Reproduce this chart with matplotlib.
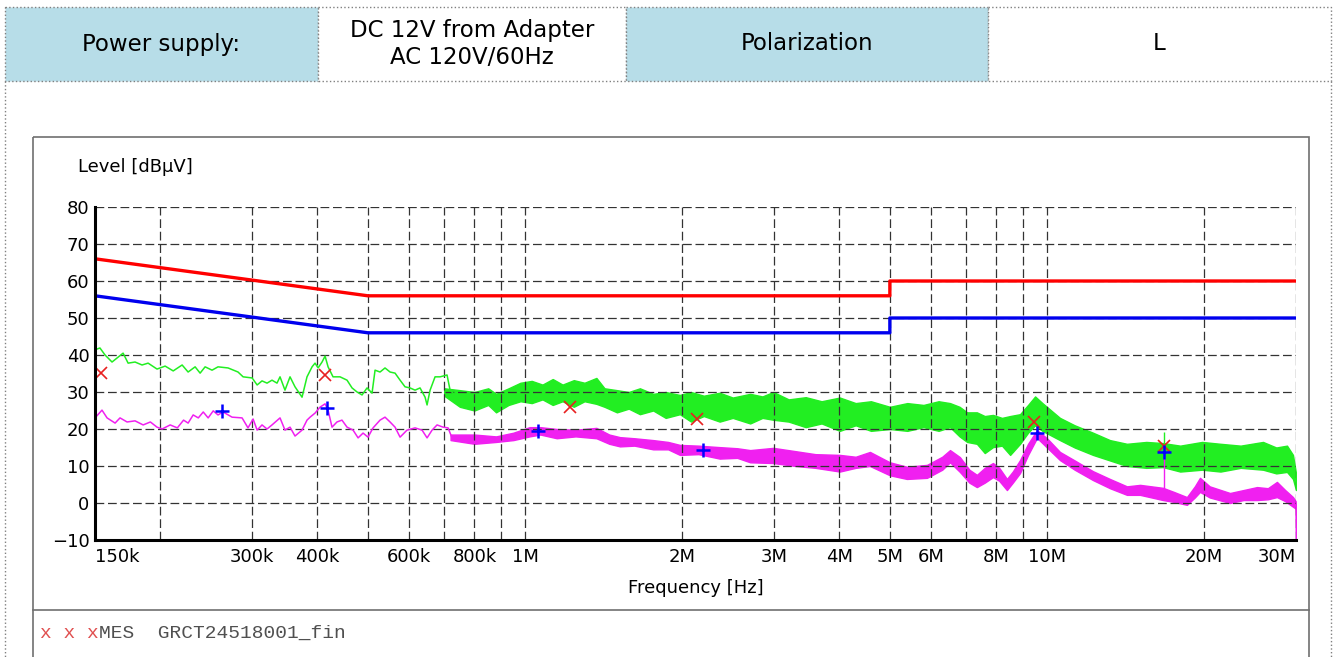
import matplotlib
matplotlib.use("Agg")
import matplotlib.pyplot as plt
from matplotlib.patches import Rectangle
from matplotlib.ticker import FixedLocator, NullFormatter

# header table
header_text = ["Power supply:", "DC 12V from Adapter\nAC 120V/60Hz", "Polarization", "L"]
header_fill = ["#b7dde8", "white", "#b7dde8", "white"]

# x ticks (MHz)
tick_f = [0.15, 0.3, 0.4, 0.6, 0.8, 1, 2, 3, 4, 5, 6, 8, 10, 20, 30]
tick_lbl = ["150k", "300k", "400k", "600k", "800k", "1M", "2M", "3M", "4M",
            "5M", "6M", "8M", "10M", "20M", "30M"]
grid_f = [0.2, 0.5, 0.7, 0.9, 7, 9]
y_ticks = [-10, 0, 10, 20, 30, 40, 50, 60, 70, 80]

# limit lines (MHz, dBuV)
limit_f = [0.15, 0.5, 5.0, 5.0, 30.0]
limit_qp = [66, 56, 56, 60, 60]
limit_av = [56, 46, 46, 50, 50]

# final measurements
qp_f = [0.154, 0.414, 1.22, 2.14, 9.44, 16.75]
qp_level = [35.1, 34.6, 25.9, 22.7, 21.9, 15.4]
av_f = [0.263, 0.418, 1.059, 2.19, 9.57, 16.75]
av_level = [24.9, 25.7, 19.5, 14.3, 18.9, 13.8]

# peak scan, low frequency part (MHz, dBuV)
pk_f = [0.150, 0.1533, 0.1568, 0.1617, 0.1698, 0.1736, 0.179, 0.1846, 0.1896,
        0.1972, 0.2044, 0.2118, 0.2203, 0.2262, 0.2333, 0.2385, 0.2438, 0.2514,
        0.2581, 0.2698, 0.2819, 0.2883, 0.300, 0.3067, 0.3134, 0.3204, 0.3275,
        0.3348, 0.3393, 0.3468, 0.3546, 0.3625, 0.3739, 0.3822, 0.3908, 0.396,
        0.4013, 0.4084, 0.4139, 0.4194, 0.4287, 0.4421, 0.456, 0.4662, 0.4766,
        0.4872, 0.4981, 0.5092, 0.516, 0.5275, 0.5392, 0.5513, 0.5636, 0.5762,
        0.589, 0.6021, 0.6156, 0.6293, 0.6434, 0.6491, 0.6578, 0.6724, 0.6875,
        0.7089, 0.7184, 0.741]
pk_level = [41.4, 41.9, 40.0, 38.1, 40.5, 37.8, 38.1, 37.3, 37.8,
            36.2, 37.0, 35.7, 37.3, 35.4, 36.8, 35.1, 36.8, 35.9,
            36.8, 36.5, 35.4, 34.1, 33.8, 31.9, 33.0, 32.4, 33.2,
            32.4, 34.1, 30.5, 34.1, 31.4, 28.6, 34.1, 36.8, 37.8,
            36.5, 38.1, 39.7, 36.8, 34.1, 34.1, 33.2, 31.1, 30.0,
            29.2, 31.1, 29.7, 35.9, 35.4, 36.5, 35.4, 35.1, 33.2,
            31.4, 31.1, 30.5, 31.1, 28.6, 26.5, 30.5, 34.1, 34.1,
            34.6, 30.5, 28.6]

# peak scan, noise band (MHz, low, high)
pk_band_f = [0.70, 0.75, 0.80, 0.85, 0.88, 0.93, 0.98, 1.03, 1.08, 1.13, 1.18,
             1.24, 1.30, 1.37, 1.42, 1.50, 1.58, 1.66, 1.76, 1.86, 1.98, 2.08,
             2.20, 2.36, 2.50, 2.70, 2.85, 2.99, 3.20, 3.45, 3.70, 4.01, 4.30,
             4.60, 5.00, 5.40, 5.80, 6.20, 6.52, 6.80, 7.03, 7.34, 7.60, 7.88,
             8.20, 8.50, 8.88, 9.20, 9.49, 9.80, 10.59, 11.30, 12.25, 13.20,
             14.23, 15.50, 16.68, 18.0, 19.82, 21.5, 23.5, 25.94, 27.5, 28.83,
             29.60, 30.0]
pk_band_lo = [29.0, 26.0, 25.0, 26.5, 24.5, 26.5, 27.5, 27.0, 28.0, 26.5, 27.5,
              26.0, 27.5, 26.8, 26.0, 24.5, 25.5, 24.0, 25.0, 23.0, 24.0, 22.0,
              23.5, 22.0, 23.0, 21.5, 23.0, 22.5, 22.0, 20.5, 21.5, 19.5, 21.0,
              19.5, 20.0, 19.5, 20.5, 19.5, 20.5, 18.0, 16.5, 16.0, 13.5, 15.1,
              15.5, 13.0, 16.0, 19.0, 21.0, 19.5, 17.0, 15.0, 13.0, 11.5,
              10.0, 9.5, 9.7, 8.5, 9.0, 8.5, 9.5, 9.0, 8.0, 8.4,
              6.5, 3.5]
pk_band_hi = [31.0, 30.5, 30.0, 31.0, 29.5, 31.0, 32.5, 33.0, 32.0, 33.5, 32.0,
              33.2, 32.5, 33.8, 31.0, 30.5, 30.0, 31.0, 29.5, 30.0, 29.2, 30.0,
              29.0, 29.8, 28.5, 29.5, 28.8, 30.0, 28.0, 28.6, 27.5, 28.5, 27.0,
              27.5, 26.0, 27.0, 26.5, 27.5, 27.0, 26.0, 24.5, 24.5, 23.5, 23.8,
              23.0, 23.5, 24.0, 26.5, 28.8, 27.0, 23.0, 21.0, 19.0, 17.0,
              16.0, 16.5, 16.2, 15.5, 16.5, 16.0, 15.5, 16.5, 15.0, 15.5,
              13.0, 8.0]

# average scan, low frequency part
av_line_f = [0.150, 0.1547, 0.1582, 0.1639, 0.1675, 0.1728, 0.1790, 0.1855,
             0.1915, 0.1972, 0.2017, 0.2090, 0.2157, 0.2217, 0.2262, 0.2313,
             0.2366, 0.2418, 0.2471, 0.2527, 0.2581, 0.2639, 0.2746, 0.2870,
             0.2946, 0.3013, 0.3067, 0.3134, 0.3204, 0.3275, 0.3393, 0.3468,
             0.3546, 0.3625, 0.3739, 0.3822, 0.3874, 0.3960, 0.4048, 0.4139,
             0.4194, 0.4268, 0.4362, 0.4459, 0.4560, 0.4683, 0.4788, 0.4894,
             0.5002, 0.5115, 0.5275, 0.5392, 0.5513, 0.5636, 0.5762, 0.5942,
             0.6156, 0.6349, 0.6491, 0.6636, 0.6784, 0.6966, 0.7121, 0.7247]
av_line_level = [23.0, 25.1, 23.0, 21.6, 23.0, 21.9, 22.2, 21.1,
                 21.9, 20.5, 20.0, 21.1, 20.3, 22.4, 21.6, 23.8,
                 23.0, 24.6, 23.0, 24.9, 23.8, 24.6, 23.2, 23.0,
                 20.3, 22.7, 19.7, 21.1, 20.0, 21.1, 23.0, 19.7,
                 20.5, 18.1, 19.7, 22.4, 23.2, 24.3, 25.9, 26.8,
                 25.1, 20.5, 21.9, 22.4, 20.5, 19.7, 17.6, 18.9,
                 17.8, 20.3, 22.4, 23.2, 21.9, 20.5, 17.8, 19.7,
                 20.3, 19.7, 17.6, 19.7, 21.1, 20.5, 20.3, 17.6]

# average scan, noise band
av_band_f = [0.72, 0.80, 0.88, 0.95, 1.02, 1.07, 1.15, 1.25, 1.37, 1.45, 1.52,
             1.62, 1.76, 1.88, 1.98, 2.15, 2.36, 2.55, 2.70, 2.99, 3.30, 3.60,
             4.01, 4.30, 4.58, 5.00, 5.39, 5.89, 6.30, 6.52, 6.81, 7.10, 7.34,
             7.60, 7.88, 8.10, 8.38, 8.60, 8.88, 9.20, 9.57, 10.0, 10.59, 11.3,
             12.25, 13.2, 14.23, 15.08, 16.68, 17.5, 18.54, 19.20, 19.64, 20.5,
             22.42, 23.8, 25.26, 26.5, 27.58, 28.6, 29.60, 29.95, 30.0]
av_band_lo = [17.0, 16.0, 16.5, 17.0, 18.0, 18.5, 17.5, 18.0, 17.5, 16.0, 15.3,
              15.5, 14.5, 14.5, 13.0, 13.2, 12.0, 12.2, 11.0, 10.8, 10.0, 9.5,
              8.5, 9.5, 10.0, 7.5, 6.5, 6.8, 9.0, 11.0, 8.4, 5.5, 4.3,
              5.5, 7.0, 6.0, 3.5, 5.5, 8.1, 13.0, 17.6, 15.0, 11.6, 9.0,
              6.2, 4.0, 2.2, 2.2, 0.8, 0.3, -0.5, 1.5, 3.0, 1.5,
              0.0, 0.8, 0.8, 1.0, 1.6, 0.5, -1.0, -1.5, -10.0]
av_band_hi = [18.5, 18.5, 18.0, 19.0, 20.5, 20.5, 20.0, 19.8, 20.3, 18.5, 17.8,
              17.5, 17.0, 16.5, 15.7, 15.5, 15.1, 14.8, 14.3, 14.9, 14.0, 13.2,
              13.0, 12.5, 13.8, 11.0, 9.8, 10.3, 12.5, 14.3, 12.4, 9.0, 7.6,
              9.5, 10.8, 9.5, 6.5, 8.5, 11.6, 16.0, 19.7, 17.5, 13.8, 11.5,
              8.6, 6.5, 4.5, 4.9, 4.1, 3.0, 1.6, 4.5, 6.8, 4.5,
              2.7, 3.5, 4.3, 4.0, 5.7, 3.5, 1.6, 0.5, -1.0]

# single spike at 16.75 MHz (bottom, top)
spike_f = 16.75
spike_pk = (15.0, 19.2)
spike_av = (3.5, 14.3)

W, H = 1336, 657
fig = plt.figure(figsize=(W / 100, H / 100), dpi=100)

# page frame drawn in pixel coordinates
bg = fig.add_axes([0, 0, 1, 1])
bg.set_xlim(0, W)
bg.set_ylim(H, 0)
bg.axis("off")
edges = [5, 318, 626, 988, 1331]
for i, txt in enumerate(header_text):
    bg.add_patch(Rectangle((edges[i], 7), edges[i + 1] - edges[i], 74,
                           facecolor=header_fill[i], edgecolor="#808080",
                           ls=":", lw=1))
    bg.text((edges[i] + edges[i + 1]) / 2, 44, txt, ha="center", va="center",
            fontsize=16.5, family="DejaVu Sans", linespacing=1.2)
bg.plot([5, 5], [81, H], color="#808080", ls=":", lw=1)
bg.plot([1331, 1331], [81, H], color="#808080", ls=":", lw=1)
bg.add_patch(Rectangle((33, 137), 1276, 540, facecolor="none",
                       edgecolor="#707070", lw=1.2))
bg.plot([33, 1309], [610, 610], color="#707070", lw=1.2)
bg.text(40, 633, "x x x", color="#e05050", fontsize=14,
        family="Liberation Mono", va="center")
bg.text(99, 633, "MES  GRCT24518001_fin", color="#505050", fontsize=14,
        family="Liberation Mono", va="center")

# chart
ax = fig.add_axes([95 / W, 1 - 540 / H, 1201 / W, 333 / H])
ax.set_xscale("log")
ax.set_xlim(0.15, 30)
ax.set_ylim(-10, 80)

green = "#22ee22"
magenta = "#f020f0"
ax.fill_between(pk_band_f, pk_band_lo, pk_band_hi, color=green, lw=1.0)
ax.plot(pk_f, pk_level, color=green, lw=1.1)
ax.vlines(spike_f, *spike_pk, color=green, lw=1)
ax.fill_between(av_band_f, av_band_lo, av_band_hi, color=magenta, lw=1.0)
ax.plot(av_line_f, av_line_level, color=magenta, lw=1.1)
ax.vlines(spike_f, *spike_av, color=magenta, lw=1)

ax.plot(limit_f, limit_qp, color="#ff0000", lw=2.4)
ax.plot(limit_f, limit_av, color="#0000ee", lw=2.4)
ax.plot(qp_f, qp_level, "x", color="#e82020", ms=8, mew=1.2, ls="none")
ax.plot(av_f, av_level, "+", color="#0000ff", ms=10, mew=1.8, ls="none")

ax.xaxis.set_major_locator(FixedLocator(tick_f))
ax.set_xticklabels(tick_lbl)
ax.xaxis.set_minor_locator(FixedLocator(grid_f))
ax.xaxis.set_minor_formatter(NullFormatter())
ax.set_yticks(y_ticks)
ax.grid(which="both", color="#333333", ls=(0, (7, 3)), lw=0.9)
ax.tick_params(which="both", length=0, labelsize=13)
ax.tick_params(axis="x", pad=6)
ax.tick_params(axis="y", pad=4)
lbls = ax.get_xticklabels()
lbls[0].set_ha("left")
lbls[-1].set_ha("right")

for s in ["top", "right"]:
    ax.spines[s].set_visible(False)
for s in ["left", "bottom"]:
    ax.spines[s].set_linewidth(2.2)
    ax.spines[s].set_zorder(5)

ax.set_xlabel("Frequency [Hz]", fontsize=13, labelpad=9)
ax.text(-0.014, 1.12, "Level [dBµV]", transform=ax.transAxes, fontsize=13,
        ha="left", va="center")

fig.savefig("out.png", dpi=100)
